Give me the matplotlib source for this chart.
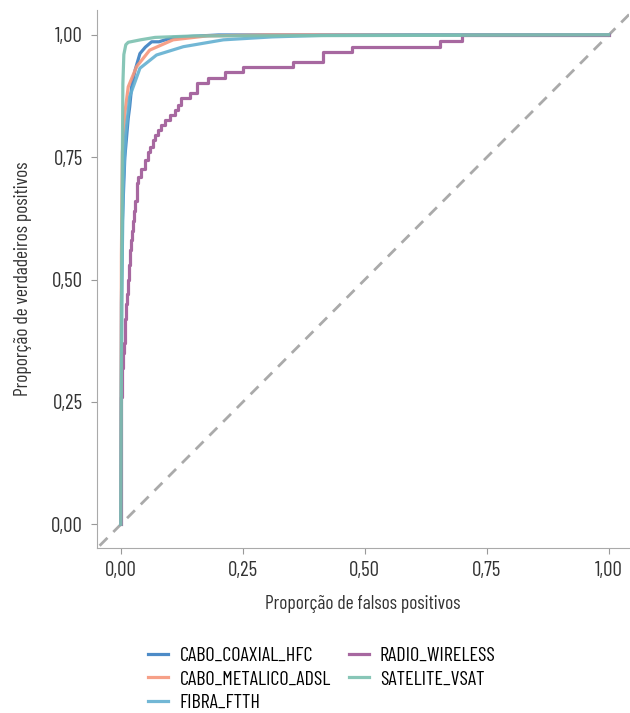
import matplotlib.pyplot as plt

plt.rcParams['font.family'] = ['Barlow Condensed', 'DejaVu Sans']

# Curvas ROC por tecnologia (proporção de falsos positivos, verdadeiros positivos)
hfc_x = [0, 0.001, 0.003, 0.008, 0.015, 0.018, 0.022, 0.029, 0.039, 0.05, 0.063, 0.078, 0.107, 0.2, 1.0]
hfc_y = [0, 0.45, 0.62, 0.75, 0.83, 0.853, 0.894, 0.928, 0.962, 0.975, 0.986, 0.986, 0.995, 1.0, 1.0]

adsl_x = [0, 0.001, 0.003, 0.008, 0.015, 0.032, 0.059, 0.107, 0.176, 0.3, 1.0]
adsl_y = [0, 0.55, 0.76, 0.84, 0.894, 0.935, 0.969, 0.99, 0.998, 1.0, 1.0]

ftth_x = [0, 0.002, 0.005, 0.01, 0.018, 0.039, 0.073, 0.128, 0.21, 0.31, 0.41, 0.6, 1.0]
ftth_y = [0, 0.5, 0.7, 0.8, 0.874, 0.932, 0.959, 0.976, 0.99, 0.996, 0.999, 1.0, 1.0]

radio_x = [0, 0, 0.001, 0.002, 0.003, 0.004, 0.006, 0.008, 0.009, 0.010, 0.012, 0.014, 0.015,
           0.016, 0.018, 0.020, 0.022, 0.024, 0.026, 0.029, 0.032, 0.036, 0.042, 0.049, 0.055,
           0.059, 0.065, 0.07, 0.076, 0.083, 0.09, 0.1, 0.11, 0.117, 0.124, 0.141, 0.155, 0.179,
           0.213, 0.251, 0.353, 0.415, 0.473, 0.654, 0.70, 1.0]
radio_y = [0, 0.19, 0.26, 0.30, 0.32, 0.35, 0.37, 0.39, 0.42, 0.45, 0.47, 0.49, 0.50,
           0.53, 0.56, 0.58, 0.60, 0.62, 0.64, 0.66, 0.697, 0.71, 0.727, 0.744, 0.76,
           0.772, 0.785, 0.795, 0.805, 0.816, 0.826, 0.836, 0.847, 0.857, 0.871, 0.881, 0.901, 0.911,
           0.925, 0.935, 0.945, 0.966, 0.976, 0.988, 1.0, 1.0]

vsat_x = [0, 0.002, 0.004, 0.006, 0.01, 0.015, 0.04, 0.07, 0.15, 1.0]
vsat_y = [0, 0.6, 0.9, 0.96, 0.98, 0.985, 0.99, 0.995, 0.998, 1.0]

ticks = [0, 0.25, 0.5, 0.75, 1.0]
tick_labels = ['0,00', '0,25', '0,50', '0,75', '1,00']

fig = plt.figure(figsize=(6.3, 7.13), dpi=100)
ax = fig.add_axes([0.154, 0.231, 0.844, 0.755])

ax.plot([-0.1, 1.1], [-0.1, 1.1], color='#aaaaaa', lw=2, ls=(0, (4, 3)))

lw = 2.3
ax.plot(hfc_x, hfc_y, color='#3a7fc1', lw=lw, alpha=0.9, label='CABO_COAXIAL_HFC')
ax.plot(adsl_x, adsl_y, color='#f6967b', lw=lw, alpha=0.9, label='CABO_METALICO_ADSL')
ax.plot(ftth_x, ftth_y, color='#63b0d1', lw=lw, alpha=0.9, label='FIBRA_FTTH')
ax.plot(radio_x, radio_y, color='#a2609b', lw=lw, alpha=0.95, drawstyle='steps-post',
        label='RADIO_WIRELESS')
ax.plot(vsat_x, vsat_y, color='#7bc0b0', lw=lw, alpha=0.9, label='SATELITE_VSAT')

ax.set_xlim(-0.049, 1.041)
ax.set_ylim(-0.049, 1.051)
ax.set_xticks(ticks)
ax.set_xticklabels(tick_labels)
ax.set_yticks(ticks)
ax.set_yticklabels(tick_labels)
ax.tick_params(colors='#999999', labelcolor='#333333', labelsize=15, length=4)
ax.tick_params(axis='y', pad=6)
ax.tick_params(axis='x', pad=5)

for s in ['top', 'right']:
    ax.spines[s].set_visible(False)
for s in ['left', 'bottom']:
    ax.spines[s].set_color('#aaaaaa')

ax.set_xlabel('Proporção de falsos positivos', fontsize=14, color='#333333', labelpad=11)
ax.set_ylabel('Proporção de verdadeiros positivos', fontsize=14, color='#333333', labelpad=14)

ax.legend(loc='upper center', bbox_to_anchor=(0.423, -0.168), ncol=2, frameon=False,
          fontsize=14.5, handlelength=1.0, handletextpad=0.55, columnspacing=0.9,
          labelspacing=0.27, borderaxespad=0)

fig.savefig('out.png', dpi=100)
